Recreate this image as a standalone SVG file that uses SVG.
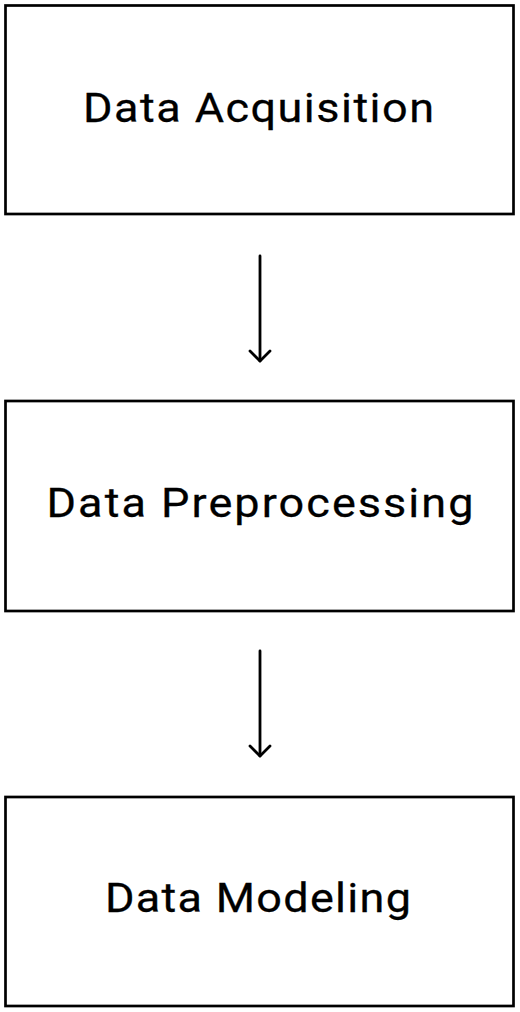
<svg xmlns="http://www.w3.org/2000/svg" width="520" height="1012" viewBox="0 0 520 1012">
<style>
.box{fill:#fff;stroke:#000;stroke-width:2.7}
.lbl{font-family:Roboto,"Liberation Sans",sans-serif;font-size:45px;fill:#000;stroke:#000;stroke-width:0.3;text-anchor:middle}
.conn{stroke:#000;stroke-width:2.8;fill:none;stroke-linecap:round;stroke-linejoin:round}
</style>
<rect width="520" height="1012" fill="#fff"/>
<g id="node-acquisition">
<rect class="box" x="5.5" y="5.5" width="508" height="208.5"/>
<text class="lbl" transform="translate(258.5 121.7) scale(1 0.91)" x="0" y="0" textLength="351" lengthAdjust="spacing">Data Acquisition</text>
</g>
<g id="node-preprocessing">
<rect class="box" x="5.5" y="401" width="508" height="210"/>
<text class="lbl" transform="translate(260 517) scale(1 0.91)" x="0" y="0" textLength="427" lengthAdjust="spacing">Data Preprocessing</text>
</g>
<g id="node-modeling">
<rect class="box" x="5.5" y="797" width="508" height="209"/>
<text class="lbl" transform="translate(258 912) scale(1 0.91)" x="0" y="0" textLength="306" lengthAdjust="spacing">Data Modeling</text>
</g>
<g id="connectors">
<path class="conn" d="M260 256 V361"/>
<path class="conn" d="M250 351 L260 361 L270 351"/>
<path class="conn" d="M260 651 V756"/>
<path class="conn" d="M250 746 L260 756 L270 746"/>
</g>
</svg>
